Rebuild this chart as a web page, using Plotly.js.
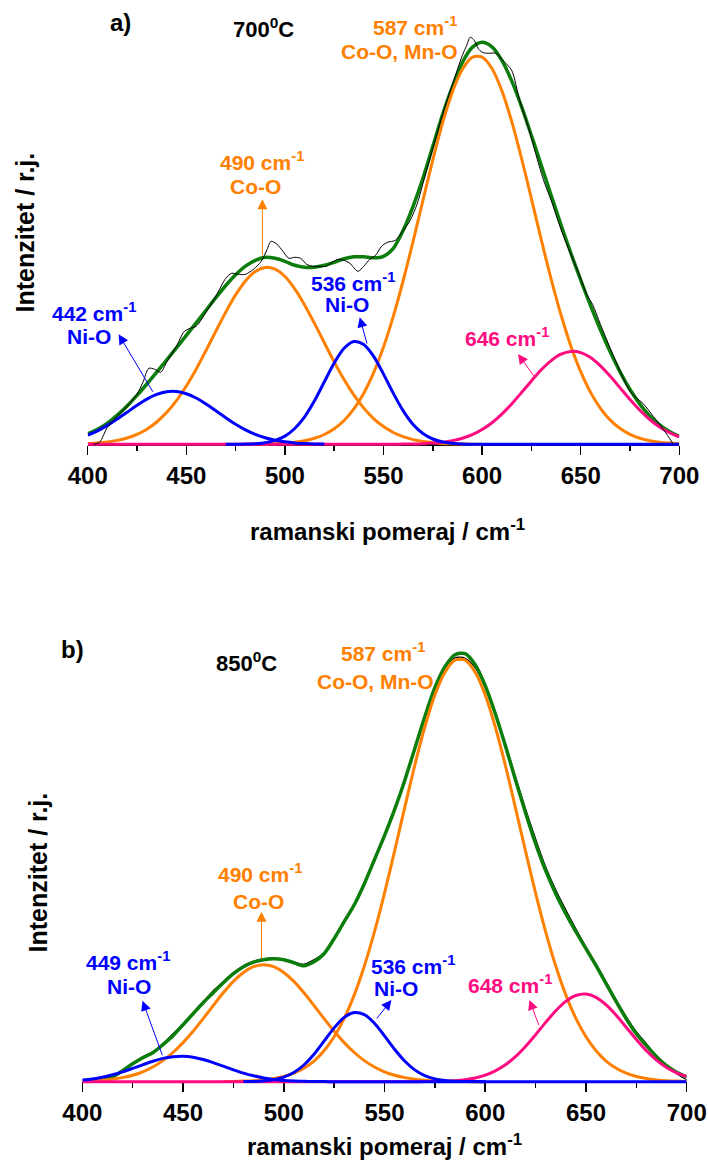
<!DOCTYPE html>
<html>
<head>
<meta charset="utf-8">
<script src="https://cdn.plot.ly/plotly-3.0.1.min.js"></script>
<style>html,body{margin:0;padding:0;background:#fff}#chart{width:708px;height:1166px}</style>
</head>
<body>
<div id="chart"></div>
<script>
// Raman shift grid (cm^-1)
const ramanX = [400,405,410,415,420,425,430,435,440,445,450,455,460,465,470,475,480,485,490,495,500,505,510,515,520,525,530,535,540,545,550,555,560,565,570,575,580,585,590,595,600,605,610,615,620,625,630,635,640,645,650,655,660,665,670,675,680,685,690,695,700];
const N = null;

// ---------- Panel a) 700 °C ----------
const greenA = [10.5,15,21.2,29.2,38.4,48.9,60.3,72.2,84.3,96.5,
  108.9,121.4,134.1,146.7,158.8,169.6,178.2,184,187,186,
  183,179,177,177,179,182,185.5,187.5,187.5,186.5,
  188,196,214,238,266,298,330,358,381.8,396.9,
  402.0,397.4,383.9,363.4,337.7,309.0,279.1,249.0,219.6,191.3,
  164.3,138.6,114.5,92.2,72.2,54.8,40.2,28.4,19.4,12.8,
  8.0];
const blue1A = [9.2,13.5,18.9,25.3,32.1,39.0,45.2,49.9,52.6,52.8,
  50.6,46.3,40.3,33.5,26.6,20.1,14.5,10.0,6.6,4.1,
  2.5,1.4,0.8,0.4,0.2,N,N,N,N,N,
  N,N,N,N,N,N,N,N,N,N,
  N,N,N,N,N,N,N,N,N,N,
  N,N,N,N,N,N,N,N,N,N,
  N];
const orange1A = [0.7,1.3,2.3,3.9,6.3,9.9,15.1,22.3,31.7,43.7,
  58.3,75.1,93.8,113.2,132.2,149.4,163.4,172.8,176.9,175.1,
  167.8,155.5,139.4,120.9,101.5,82.4,64.7,49.2,36.2,25.7,
  17.7,11.8,7.6,4.7,2.9,1.7,0.9,0.5,0.3,0.1,
  0,N,N,N,N,N,N,N,N,N,
  N,N,N,N,N,N,N,N,N,N,
  N];
const blue2A = [N,N,N,N,N,N,N,N,N,N,
  N,N,N,N,0,0.1,0.2,0.6,1.6,3.9,
  8.2,15.8,27.5,43.5,62.5,81.3,96.0,102.8,99.8,87.9,
  70.2,50.9,33.4,19.9,10.8,5.3,2.3,1.0,0.3,0.1,
  0,0,0,0,0,0,0,0,0,0,
  0,0,0,0,0,0,0,0,0,0,
  0];
const orange2A = [N,N,N,N,N,N,N,N,N,N,
  N,N,N,N,N,N,0.1,0.1,0.3,0.6,
  1.2,2.1,3.6,6.0,9.8,15.5,23.8,35.4,51.1,71.6,
  97.3,128.2,163.8,202.9,244.0,284.4,321.6,352.7,375.1,387.0,
  387.2,375.8,353.7,323.0,286.0,245.6,204.6,165.3,129.5,98.4,
  72.6,51.9,36.0,24.2,15.8,10.0,6.1,3.6,2.1,1.2,
  0.6];
const pinkA = [0,0,0,0,0,0,0,0,0,0,
  0,0,0,0,0,0,0,0,0,0,
  0,0,0,0,0,0,0,0,0,0,
  0,0,0.2,0.3,0.6,1.2,2.1,3.7,6.1,9.7,
  14.8,21.6,30.2,40.4,51.7,63.4,74.5,83.7,90.1,92.9,
  91.7,86.7,78.5,68.0,56.4,44.8,34.1,24.8,17.3,11.6,
  7.4];
const measAX = [403,406,410,415,420,425,428,431,434,437,440,445,449,452,455,460,465,470,473,476,480,484,488,491,493,496,499,502,505,508,511,514,517,521,524,527,530,533,537,540,543,546,549,552,556,560,563,567,571,575,580,585,590,592,594,596,598,600,603,607,611,615,619,623,627,631,635,640,645,650,653,656,660,665,670,675,678,682,686,690,694,697];
const measAY = [0,2,17,28,38,50,62,76,75,72,82,98,113,116,118,132,148,166,171,170,170,175,183,195,203,200,193,186,187,186,180,178,178,178,182,185,184,181,173,178,185,189,198,202,204,214,222,240,268,296,330,360,389,398,407,404,396,392,391,391,383,374,344,320,292,265,244,215,190,166,150,140,120,96,73,53,47,40,30,20,9,0];

// ---------- Panel b) 850 °C ----------
const greenB = [N,N,1,5,11,18,24,29,37,46,
  57,68,79,89,99,108,115,119.5,122,123,
  122,119,116,120,128,143,160,177,198,222,
  246,272,301,333,365,394,415,427,428,417,
  396,368,336,302,269,238,211,188,168,150,
  133,116,98,80,63,48,36,25,16,9.5,
  5];
const measB = [N,N,0,4,10,18,25,30,38,48,
  58,69,80,91,100,109,116,120.5,123,123.5,
  122,119.5,117.5,122,129,144,161,178,199,223,
  247,273,302,334,366,394,414,424,423.5,414,
  395,369,338,305,273,243,215,192,172,153,
  135,118,100,82,65,50,38,26,16,8,
  2];
const blue1B = [1.7,2.8,4.5,6.9,9.8,13.3,16.9,20.4,23.3,25.0,
  25.5,24.5,22.2,19.1,15.5,11.9,8.6,5.9,3.8,2.3,
  1.3,0.7,0.4,0.2,0.1,0,0,0,0,0,
  0,0,0,0,0,0,0,0,0,0,
  0,0,0,0,0,0,0,0,0,0,
  0,0,0,0,0,0,0,0,0,0,
  0];
const orange1B = [0.5,0.8,1.5,2.5,4.1,6.4,9.9,14.7,21.1,29.2,
  39.1,50.5,63.1,76.2,88.9,100.3,109.2,115.0,117.0,115.0,
  109.2,100.3,88.9,76.2,63.1,50.5,39.1,29.2,21.1,14.7,
  9.9,6.4,4.1,2.5,1.5,0.8,0.5,0.2,0.1,0,
  0,N,N,N,N,N,N,N,N,N,
  N,N,N,N,N,N,N,N,N,N,
  N];
const blue2B = [N,N,N,N,N,N,N,N,N,N,
  N,N,N,N,N,N,0.1,0.3,0.8,2.0,
  4.6,9.2,16.7,27.4,40.5,53.8,64.3,69.2,67.0,58.5,
  45.9,32.5,20.7,11.8,6.1,2.8,1.2,0.4,0.2,0.1,
  0,N,N,N,N,N,N,N,N,N,
  N,N,N,N,N,N,N,N,N,N,
  N];
const orange2B = [N,N,N,N,N,N,N,N,N,N,
  N,N,N,N,0.2,0.3,0.6,1.0,1.8,3.1,
  5.2,8.5,13.4,20.6,30.9,44.9,63.3,86.8,115.7,149.8,
  188.6,230.6,273.9,316.2,354.7,386.7,409.5,421.5,421.5,409.5,
  386.7,354.7,316.2,273.9,230.6,188.6,149.8,115.7,86.8,63.3,
  44.9,30.9,20.6,13.4,8.5,5.2,3.1,1.8,1.0,0.6,
  0.3];
const pinkB = [0,0,0,0,0,0,0,0,0,0,
  0,0,0,0,0,0,0,0,0,0,
  0,0,0,0,0,0,0,0,0,0,
  0,0,0,0,0.1,0.2,0.5,1.0,2.0,3.7,
  6.5,10.8,16.9,25.1,35.3,47.0,59.3,70.9,80.3,86.2,
  87.6,84.4,76.9,66.5,54.4,42.2,31.0,21.6,14.2,8.9,
  5.3];

// ---------- styling ----------
const GREEN = '#0a7d0a', ORANGE = '#ff8000', BLUE = '#0000ff', PINK = '#ff0a80';
const FONT = 'Liberation Sans, Arial, Helvetica, sans-serif';
const W = 708, H = 1166;
const px = v => v / W, py = v => 1 - v / H;

function line(x, y, color, width, xa, ya) {
  return {x: x, y: y, xaxis: xa, yaxis: ya, type: 'scatter', mode: 'lines',
    line: {color: color, width: width, shape: 'spline', smoothing: 0.8},
    connectgaps: false, hoverinfo: 'skip', showlegend: false};
}

const traces = [
  line(ramanX, greenA, GREEN, 3.5, 'x', 'y'),
  line(ramanX, orange1A, ORANGE, 3, 'x', 'y'),
  line(ramanX, orange2A, ORANGE, 3, 'x', 'y'),
  line(ramanX, pinkA, PINK, 3, 'x', 'y'),
  line(ramanX, blue1A, BLUE, 3, 'x', 'y'),
  line(ramanX, blue2A, BLUE, 3, 'x', 'y'),
  line(measAX, measAY, '#000000', 1, 'x', 'y'),

  line(ramanX, measB, '#000000', 1.2, 'x2', 'y2'),
  line(ramanX, greenB, GREEN, 3.5, 'x2', 'y2'),
  line(ramanX, orange1B, ORANGE, 3, 'x2', 'y2'),
  line(ramanX, orange2B, ORANGE, 3, 'x2', 'y2'),
  line(ramanX, pinkB, PINK, 3, 'x2', 'y2'),
  line(ramanX, blue1B, BLUE, 3, 'x2', 'y2'),
  line(ramanX, blue2B, BLUE, 3, 'x2', 'y2')
];

function xaxisDef(domain, pos) {
  return {domain: domain, range: [400, 700], anchor: 'free', position: pos,
    layer: 'below traces',
    showgrid: false, zeroline: false, showline: true, linecolor: '#000', linewidth: 1.5,
    ticks: 'outside', ticklen: 9, tickwidth: 1.5, tickcolor: '#000',
    tick0: 400, dtick: 50, ticklabelstandoff: 0,
    minor: {dtick: 25, ticks: 'outside', ticklen: 5, tickwidth: 1.5, tickcolor: '#000'},
    tickfont: {family: FONT, size: 24, color: '#000', weight: 'bold'},
    fixedrange: true};
}
function yaxisDef(domain, range) {
  return {domain: domain, range: range, visible: false, fixedrange: true};
}

// text labels: [text, xpx, ypx, color, size]
const labels = [
  ['a)', 120, 22.5, '#000', 24],
  ['700<sup>0</sup>C', 263.5, 27.5, '#000', 22],
  ['587 cm<sup>-1</sup>', 414.7, 26, ORANGE, 21],
  ['Co-O, Mn-O', 399.3, 51.7, ORANGE, 21],
  ['490 cm<sup>-1</sup>', 262, 161, ORANGE, 21],
  ['Co-O', 255.7, 186, ORANGE, 21],
  ['442 cm<sup>-1</sup>', 94, 311.5, BLUE, 21],
  ['Ni-O', 89.4, 336.7, BLUE, 21],
  ['536 cm<sup>-1</sup>', 353, 282, BLUE, 21],
  ['Ni-O', 347.3, 305, BLUE, 21],
  ['646 cm<sup>-1</sup>', 506.8, 336.7, PINK, 21],
  ['ramanski pomeraj / cm<sup>-1</sup>', 387.5, 530, '#000', 24],

  ['b)', 72.4, 649, '#000', 24],
  ['850<sup>0</sup>C', 247, 661.7, '#000', 22],
  ['587 cm<sup>-1</sup>', 383, 652, ORANGE, 21],
  ['Co-O, Mn-O', 375.6, 681, ORANGE, 21],
  ['490 cm<sup>-1</sup>', 259.7, 872.5, ORANGE, 21],
  ['Co-O', 258, 901.7, ORANGE, 21],
  ['449 cm<sup>-1</sup>', 127.8, 961, BLUE, 21],
  ['Ni-O', 129, 986.7, BLUE, 21],
  ['536 cm<sup>-1</sup>', 413, 965, BLUE, 21],
  ['Ni-O', 396, 988, BLUE, 21],
  ['648 cm<sup>-1</sup>', 510, 984, PINK, 21],
  ['ramanski pomeraj / cm<sup>-1</sup>', 384.5, 1145, '#000', 24]
];
// arrows: [headX, headY, tailX, tailY, color]
const arrows = [
  [262.4, 199.3, 262.4, 256.7, ORANGE],
  [118.6, 334.3, 153.8, 393.3, BLUE],
  [359.7, 317.3, 367.4, 345, BLUE],
  [518, 354, 534.8, 377.3, PINK],
  [261.5, 911.7, 261.5, 960, ORANGE],
  [142.5, 1000.7, 162.9, 1056.7, BLUE],
  [391.4, 1000, 375.6, 1020, BLUE],
  [529.4, 1000, 539.4, 1026.7, PINK]
];

const annotations = [];
labels.forEach(l => annotations.push({
  text: '<b>' + l[0] + '</b>', x: px(l[1]), y: py(l[2]), xref: 'paper', yref: 'paper',
  xanchor: 'center', yanchor: 'middle', showarrow: false,
  font: {family: FONT, size: l[4], color: l[3]}
}));
[[24, 232.5], [37, 872.5]].forEach(p => annotations.push({
  text: '<b>Intenzitet / r.j.</b>', x: px(p[0]), y: py(p[1]), xref: 'paper', yref: 'paper',
  xanchor: 'center', yanchor: 'middle', showarrow: false, textangle: -90,
  font: {family: FONT, size: 25, color: '#000'}
}));
arrows.forEach(a => annotations.push({
  text: '', x: px(a[0]), y: py(a[1]), xref: 'paper', yref: 'paper',
  ax: a[2] - a[0], ay: a[3] - a[1], axref: 'pixel', ayref: 'pixel',
  showarrow: true, arrowhead: 2, arrowsize: 2, arrowwidth: 1, arrowcolor: a[4], standoff: 0
}));

const layout = {
  width: W, height: H, margin: {l: 0, r: 0, t: 0, b: 0},
  paper_bgcolor: '#fff', plot_bgcolor: 'rgba(0,0,0,0)', showlegend: false,
  xaxis: xaxisDef([px(87.7), px(679.3)], py(444.3)),
  yaxis: yaxisDef([py(447.3), py(30)], [-3, 414.3]),
  xaxis2: xaxisDef([px(82.3), px(686.7)], py(1081.7)),
  yaxis2: yaxisDef([py(1084.7), py(640)], [-3, 441.7]),
  annotations: annotations
};

Plotly.newPlot('chart', traces, layout, {displayModeBar: false, staticPlot: true});
</script>
</body>
</html>
